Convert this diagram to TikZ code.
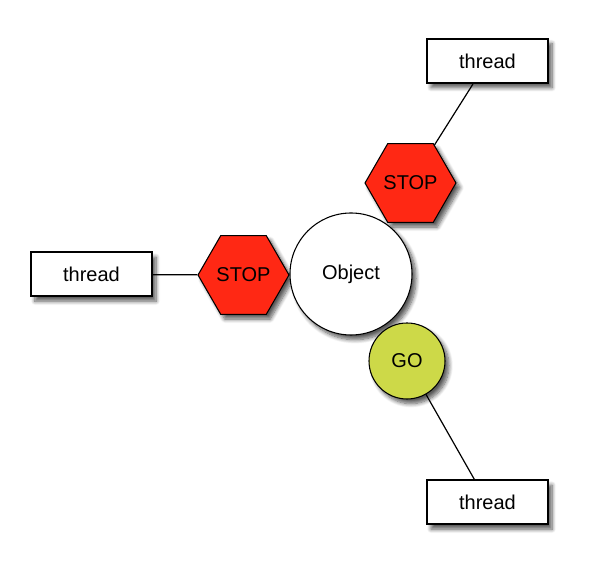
\documentclass[tikz,border=0pt]{standalone}
\usepackage{fontspec}
\setmainfont{Liberation Sans}
\usetikzlibrary{shapes.geometric,shadows.blur}
\definecolor{LockRed}{HTML}{FF2814}
\definecolor{LockGreen}{HTML}{CDD948}
\definecolor{LockInk}{HTML}{000000}
\tikzset{
  every node/.style={font=\fontsize{15}{18}\selectfont, text=LockInk},
  softshadow/.style={blur shadow={shadow xshift=3pt, shadow yshift=-3.5pt, shadow blur steps=8, shadow blur radius=3pt, shadow opacity=65}},
  threadbox/.style={draw=LockInk, line width=1.5pt, fill=white, minimum width=90.75pt, minimum height=33pt, inner sep=0pt, softshadow},
  stopsign/.style={regular polygon, regular polygon sides=6, draw=LockInk, line width=0.8pt, fill=LockRed, minimum size=68.25pt, inner sep=0pt, softshadow},
  objcircle/.style={circle, draw=LockInk, line width=0.8pt, fill=white, minimum size=91.5pt, inner sep=0pt, softshadow},
  gocircle/.style={circle, draw=LockInk, line width=0.8pt, fill=LockGreen, minimum size=57pt, inner sep=0pt, softshadow},
  link/.style={draw=LockInk, line width=0.9pt},
}
\begin{document}
\begin{tikzpicture}[x=0.75pt, y=-0.75pt]
  \useasboundingbox (0,0) rectangle (601,566);
  % Threads
  \node[threadbox] (tt) at (487.5,61) {thread};
  \node[threadbox] (lt) at (91.5,274.5) {thread};
  \node[threadbox] (bt) at (487.5,502.5) {thread};
  % Locks, then the shared object, then the free lock on top
  \node[stopsign] (lstop) at (243.5,275) {STOP};
  \node[stopsign] (ustop) at (410.5,183) {STOP};
  \node[objcircle] (obj) at (351,274) {Object};
  \node[gocircle] (go) at (407,361) {GO};
  % Links
  \draw[link] (lt) -- (lstop);
  \draw[link] (ustop) -- (tt);
  \draw[link] (go) -- (bt);
\end{tikzpicture}
\end{document}
